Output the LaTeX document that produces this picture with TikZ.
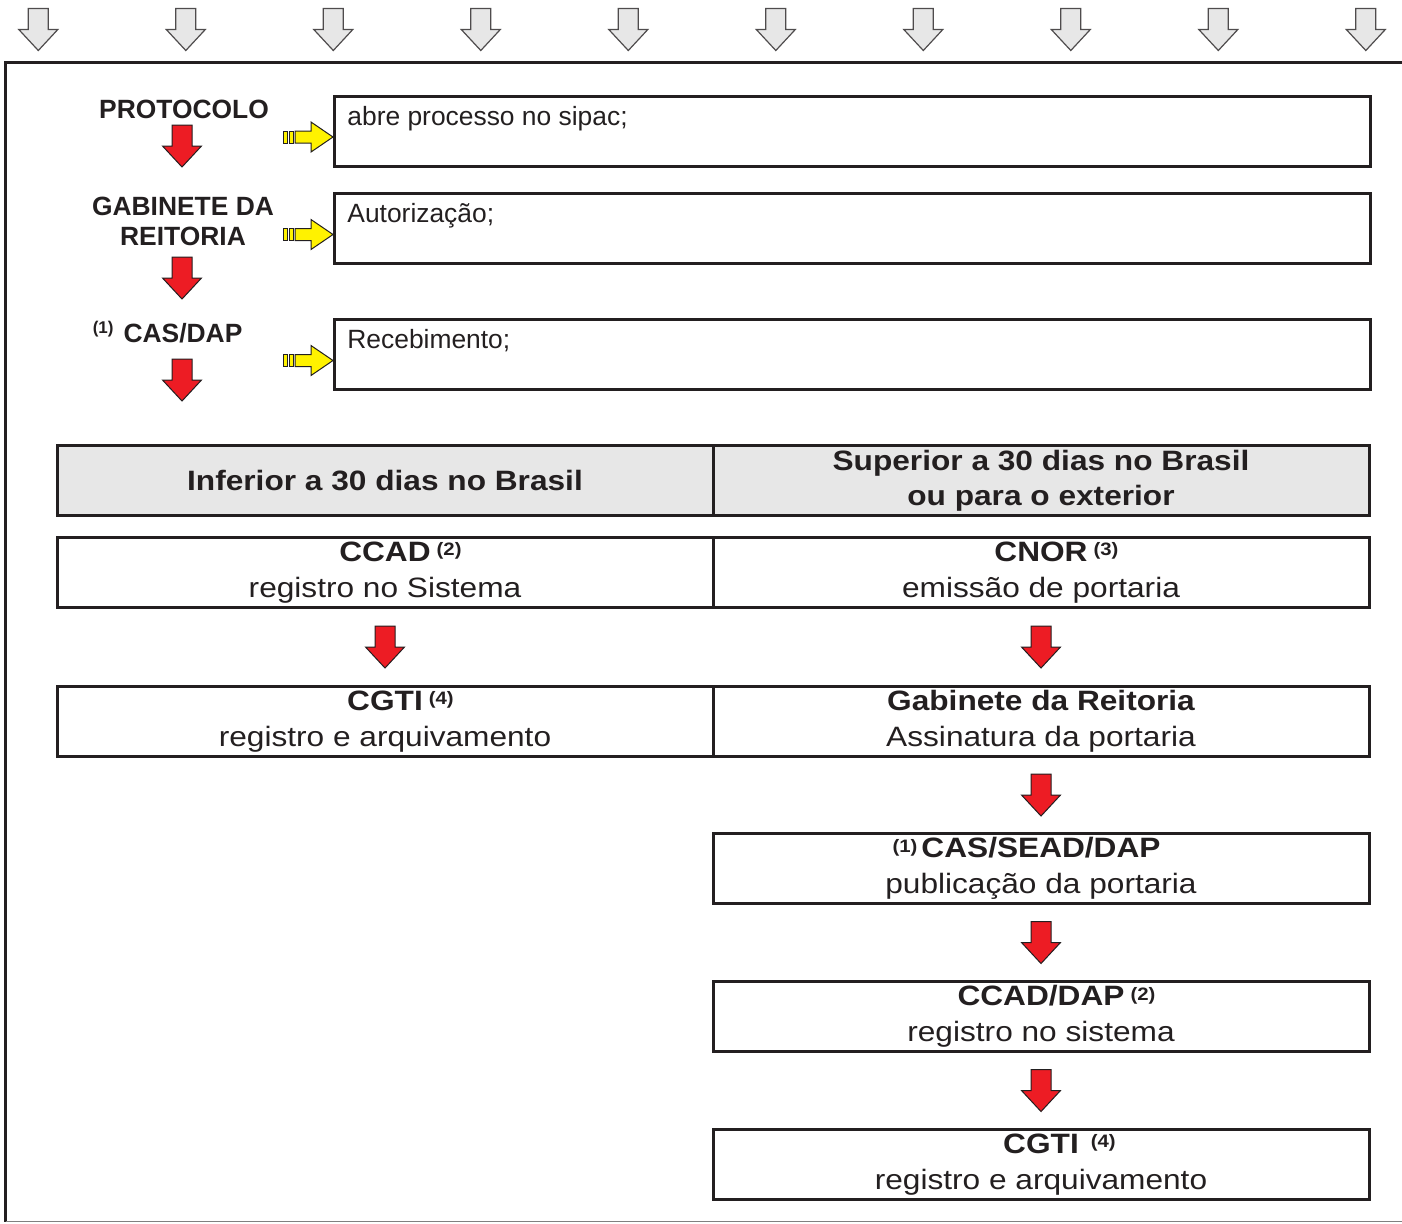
\documentclass[tikz,border=0pt]{standalone}
\usepackage{fontspec}
\setmainfont{Liberation Sans}
\newfontfamily\widesans{Liberation Sans}[FakeStretch=1.13]
\usetikzlibrary{calc}

\definecolor{inkblack}{RGB}{35,31,32}
\definecolor{flowred}{RGB}{237,28,36}
\definecolor{flowyellow}{RGB}{255,242,0}
\definecolor{headgray}{RGB}{231,231,231}

\newcommand{\refnum}[1]{\raisebox{2.8pt}{\fontsize{9}{9}\selectfont\bfseries #1}}
\newcommand{\sidenum}[1]{\raisebox{4.4pt}{\fontsize{8.5}{9}\selectfont\bfseries #1}}

\begin{document}
\begin{tikzpicture}[x=0.5pt,y=-0.5pt,
  rowbox/.style={draw=inkblack, line width=1.5pt, inner sep=0pt, minimum width=328pt, minimum height=35pt,
    align=center, text=inkblack, font=\widesans\fontsize{14}{17.8}\selectfont},
  headbox/.style={rowbox, fill=headgray, font=\widesans\bfseries\fontsize{14}{17.5}\selectfont},
  taskbox/.style={draw=inkblack, line width=1.5pt, outer sep=0pt, minimum width=518pt, minimum height=35pt},
  tasktext/.style={anchor=base west, inner sep=0pt, text=inkblack, font=\fontsize{13.2}{15}\selectfont},
  sidelabel/.style={inner sep=0pt, align=center, text=inkblack, font=\bfseries\fontsize{13.2}{15}\selectfont},
  flowarrow/.style={fill=flowred, draw=inkblack, line width=0.5pt},
  droparrow/.style={fill=headgray, draw=inkblack!80, line width=0.6pt},
  handarrow/.style={fill=flowyellow, draw=inkblack, line width=0.5pt},
  blockarrow/.pic={\path[pic actions] (-10,-21) -- (10,-21) -- (10,0) -- (19.5,0) -- (0,21) -- (-19.5,0) -- (-10,0) -- cycle;},
  pointer/.pic={
    \path[pic actions] (-38,-6) -- (-22,-6) -- (-22,-15) -- (0,0) -- (-22,15) -- (-22,6) -- (-38,6) -- cycle;
    \path[pic actions] (-44,-6) rectangle (-40,6);
    \path[pic actions] (-50,-6) rectangle (-46,6);
  }
]
\useasboundingbox (0,0) rectangle (1402,1223);

% Arrows along the top
\foreach \i in {0,...,9}
  \pic[droparrow] at ({38.3+147.5*\i},29.5) {blockarrow};

% Frame
\draw[inkblack, line width=1.5pt] (1402,62.5) -- (5.5,62.5) -- (5.5,1221.5);
\draw[gray, line width=0.5pt] (5.5,1221.5) -- (1402,1221.5);

% First steps (left labels)
\node[sidelabel, anchor=base] (protocolo) at (184,118) {PROTOCOLO};
\node[sidelabel] (gabreitoria) at (183,221.7) {GABINETE DA\\REITORIA};
\node[sidelabel, anchor=base] (casdap) at (183,342) {\llap{\sidenum{(1)}\hspace{5pt}}CAS/DAP};

\pic[flowarrow] at (182,146) {blockarrow};
\pic[flowarrow] at (182,278) {blockarrow};
\pic[flowarrow] at (182,380) {blockarrow};

% Task boxes
\node[taskbox] (abre) at (852,131) {};
\node[taskbox] (autoriza) at (852,228.5) {};
\node[taskbox] (recebe) at (852,354.5) {};

\node[tasktext] (abretxt) at ($(abre.north west)+(13,29)$) {abre processo no sipac;};
\node[tasktext] (autorizatxt) at ($(autoriza.north west)+(13,29)$) {Autorização;};
\node[tasktext] (recebetxt) at ($(recebe.north west)+(13,29)$) {Recebimento;};

\pic[handarrow] at ($(abre.west)+(-1,6)$) {pointer};
\pic[handarrow] at ($(autoriza.west)+(-1,6)$) {pointer};
\pic[handarrow] at ($(recebe.west)+(-1,6)$) {pointer};

% Two branches
\node[headbox] (inferior) at (385,480.5) {Inferior a 30 dias no Brasil};
\node[headbox] (superior) at (1041,480.5) {Superior a 30 dias no Brasil\\ou para o exterior};

\node[rowbox] (ccad) at (385,572.5) {{\bfseries CCAD\rlap{\hspace{3pt}\refnum{(2)}}}\\registro no Sistema};
\node[rowbox] (cnor) at (1041,572.5) {{\bfseries CNOR\rlap{\hspace{3pt}\refnum{(3)}}}\\emissão de portaria};

\node[rowbox] (cgtiesq) at (385,721.5) {{\bfseries CGTI\rlap{\hspace{3pt}\refnum{(4)}}}\\registro e arquivamento};
\node[rowbox] (gabinete) at (1041,721.5) {{\bfseries Gabinete da Reitoria}\\Assinatura da portaria};

\node[rowbox] (publica) at (1041,868.5) {{\bfseries\llap{\refnum{(1)}\hspace{2pt}}CAS/SEAD/DAP}\\publicação da portaria};
\node[rowbox] (ccaddap) at (1041,1016.5) {{\bfseries CCAD/DAP\rlap{\hspace{3pt}\refnum{(2)}}}\\registro no sistema};
\node[rowbox] (cgtidir) at (1041,1164.5) {{\bfseries CGTI\rlap{\hspace{6pt}\refnum{(4)}}}\\registro e arquivamento};

% Red arrows between boxes
\pic[flowarrow] at ($(ccad.south)!0.5!(cgtiesq.north)$) {blockarrow};
\pic[flowarrow] at ($(cnor.south)!0.5!(gabinete.north)$) {blockarrow};
\pic[flowarrow] at ($(gabinete.south)!0.5!(publica.north)$) {blockarrow};
\pic[flowarrow] at ($(publica.south)!0.5!(ccaddap.north)$) {blockarrow};
\pic[flowarrow] at ($(ccaddap.south)!0.5!(cgtidir.north)$) {blockarrow};

\end{tikzpicture}
\end{document}
